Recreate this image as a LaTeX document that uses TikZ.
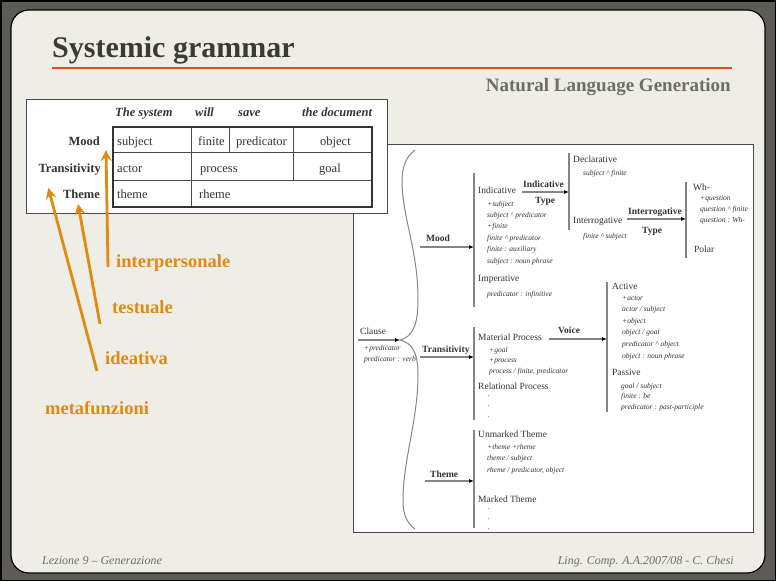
\documentclass[tikz,border=0pt]{standalone}
\usepackage{fontspec}
\setmainfont{Liberation Serif}
\usetikzlibrary{arrows.meta, calc}
\definecolor{frame}{HTML}{5C5C54}
\definecolor{paper}{HTML}{EFEEE6}
\definecolor{rulered}{HTML}{D4521C}
\definecolor{heading}{HTML}{3A3A36}
\definecolor{subhead}{HTML}{6E6E68}
\definecolor{meta}{HTML}{E08A12}
\definecolor{grid}{HTML}{4A4A4A}
\definecolor{wire}{HTML}{858585}
\definecolor{txt}{HTML}{333333}
% feature lists, aligned on the baseline of their first line
\newcommand{\flist}[1]{\begin{tabular}[t]{@{}l@{}}#1\end{tabular}}

\begin{document}
\begin{tikzpicture}[x=1pt, y=-1pt,
  lab/.style={anchor=base west, inner sep=0pt, text=txt},
  rlab/.style={anchor=base east, inner sep=0pt, text=txt},
  cell/.style={lab, font=\fontsize{12.5}{13}\selectfont},
  rowlab/.style={rlab, font=\fontsize{12.5}{13}\selectfont\bfseries},
  head/.style={lab, font=\fontsize{12.5}{13}\selectfont\bfseries\itshape},
  metalab/.style={lab, text=meta, font=\fontsize{18.5}{19}\selectfont\bfseries},
  metaarr/.style={draw=meta, line width=2.8pt, -{Stealth[length=11pt, width=11pt, inset=4pt]}},
  rt/.style={lab, font=\fontsize{9.5}{11}\selectfont},
  rb/.style={lab, font=\fontsize{9.5}{11}\selectfont\bfseries},
  ft/.style={lab, font=\fontsize{7.5}{11.3}\selectfont\itshape},
  bar/.style={draw=wire, line width=1.3pt},
  wirearr/.style={draw=wire, line width=1.1pt, -{Latex[length=5pt, width=4pt, black]}}]
  \useasboundingbox (0,0) rectangle (776,581);

  % slide frame
  \fill[frame] (0,0) rectangle (776,581);
  \draw[black, line width=1.5pt] (0.75,0.75) rectangle (775.25,580.25);
  \draw[fill=paper, draw=black, line width=1.2pt, rounded corners=18pt] (11,10) rectangle (765,573);

  % title and footer
  \node[lab, text=heading, font=\fontsize{30}{30}\selectfont\bfseries] (title) at (52,57) {Systemic grammar};
  \draw[rulered, line width=1.2pt] (52,68) -- (732,68);
  \node[rlab, text=subhead, font=\fontsize{19}{19}\selectfont\bfseries] (subtitle) at (731,91) {Natural Language Generation};
  \node[lab, text=subhead, font=\fontsize{12}{12}\selectfont\itshape] (footl) at (42,564) {Lezione 9 -- Generazione};
  \node[rlab, text=subhead, font=\fontsize{12}{12}\selectfont\itshape] (footr) at (734,564) {Ling. Comp. A.A.2007/08 - C. Chesi};

  % right figure: the system network
  \draw[fill=white, draw=grid, line width=1pt] (353,144) rectangle (753,532);
  \node[rt] (clause) at (360,334) {Clause};
  \node[ft, font=\fontsize{7.5}{11}\selectfont\itshape] (clausef) at (364,350) {\flist{+predicator\\predicator : verb}};
  \coordinate (tip) at (400,340);
  \draw[wire, line width=1pt] (415,150) .. controls (406,157) and (402,166) .. (402,183)
    .. controls (403,220) and (418,250) .. (418,300) .. controls (418,326) and (412,337) .. (tip)
    .. controls (412,343) and (418,352) .. (418,375) .. controls (418,420) and (403,460) .. (403,500)
    .. controls (403,515) and (407,523) .. (415,529);
  \coordinate (clauseS) at ($(clause.base west)+(-2,6)$);
  \draw[wirearr] (clauseS) -- (tip);

  % brackets
  \foreach \n/\x/\t/\b in {bMood/474/173/307, bTrans/474/327/420, bTheme/474/430/528,
                           bInd/569/153/230, bInt/686/182/258, bVoice/607/282/412}{
    \coordinate (\n T) at (\x,\t);
    \coordinate (\n B) at (\x,\b);
    \draw[bar] (\n T) -- (\n B);
  }

  % systems and their features
  \node[rb] (mood) at (426,241) {Mood};
  \node[rb] (trans) at (422,352) {Transitivity};
  \node[rb] (theme) at (430,477) {Theme};
  \node[rb] (indlab) at (523,187) {Indicative};
  \node[rb] (indtype) at (535,203) {Type};
  \node[rb] (intlab) at (628,214) {Interrogative};
  \node[rb] (inttype) at (642,233) {Type};
  \node[rb] (voice) at (558,333) {Voice};

  \coordinate (moodS) at ($(mood.base west)+(-6,6)$);
  \coordinate (transS) at ($(trans.base west)+(-2,5)$);
  \coordinate (themeS) at ($(theme.base west)+(-5,4)$);
  \coordinate (indS) at ($(indlab.base west)+(-1,5)$);
  \coordinate (intS) at ($(intlab.base west)+(-1,5)$);
  \coordinate (voiceS) at ($(voice.base west)+(-9,6)$);
  \draw[wirearr] (moodS) -- (moodS -| bMoodT);
  \draw[wirearr] (transS) -- (transS -| bTransT);
  \draw[wirearr] (themeS) -- (themeS -| bThemeT);
  \draw[wirearr] (indS) -- (indS -| bIndT);
  \draw[wirearr] (intS) -- (intS -| bIntT);
  \draw[wirearr] (voiceS) -- (voiceS -| bVoiceT);

  \node[rt] (indic) at (478,193) {Indicative};
  \node[ft, font=\fontsize{7.5}{11.4}\selectfont\itshape] (indicf) at (487,206)
    {\flist{+subject\\subject \textasciicircum\ predicator\\+finite\\finite \textasciicircum\ predicator\\finite : auxiliary\\subject : noun phrase}};
  \node[rt] (imper) at (478,281) {Imperative};
  \node[ft] (imperf) at (487,296) {predicator : infinitive};
  \node[rt] (decl) at (573,162) {Declarative};
  \node[ft] (declf) at (583,175) {subject \textasciicircum\ finite};
  \node[rt] (interr) at (573,223) {Interrogative};
  \node[ft] (interrf) at (583,238) {finite \textasciicircum\ subject};
  \node[rt] (wh) at (693,190) {Wh-};
  \node[ft, font=\fontsize{7.5}{11}\selectfont\itshape] (whf) at (700,200)
    {\flist{+question\\question \textasciicircum\ finite\\question : Wh-}};
  \node[rt] (polar) at (694,252) {Polar};

  \node[rt] (mat) at (478,340) {Material Process};
  \node[ft, font=\fontsize{7.5}{10.5}\selectfont\itshape] (matf) at (489,352)
    {\flist{+goal\\+process\\process / finite, predicator}};
  \node[rt] (rel) at (478,389) {Relational Process};
  \node[ft, font=\fontsize{7.5}{10.5}\selectfont\itshape] (reldots) at (488,396) {\flist{.\\.\\.}};
  \node[rt] (active) at (612,289) {Active};
  \node[ft, font=\fontsize{7.5}{11.6}\selectfont\itshape] (activef) at (622,300)
    {\flist{+actor\\actor / subject\\+object\\object / goal\\predicator \textasciicircum\ object\\object : noun phrase}};
  \node[rt] (passive) at (612,375) {Passive};
  \node[ft, font=\fontsize{7.5}{10.5}\selectfont\itshape] (passivef) at (621,388)
    {\flist{goal / subject\\finite : be\\predicator : past-participle}};

  \node[rt] (unm) at (478,437) {Unmarked Theme};
  \node[ft, font=\fontsize{7.5}{11.5}\selectfont\itshape] (unmf) at (487,449)
    {\flist{+theme +rheme\\theme / subject\\rheme / predicator, object}};
  \node[rt] (marked) at (478,502) {Marked Theme};
  \node[ft, font=\fontsize{7.5}{10}\selectfont\itshape] (markdots) at (488,509) {\flist{.\\.\\.}};

  % left figure: the clause table
  \draw[fill=white, draw=grid, line width=0.9pt] (26,99) rectangle (387,213);
  \node[head] (hsys) at (115,116) {The system};
  \node[head] (hwill) at (195,116) {will};
  \node[head] (hsave) at (238,116) {save};
  \node[head] (hdoc) at (302,116) {the document};
  \draw[grid, line width=0.8pt] (113,152) -- (372,152) (113,180) -- (372,180)
    (191,127) -- (191,207) (229,127) -- (229,152) (293,127) -- (293,180);
  \draw[black!80, line width=2.4pt] (113,127) rectangle (372,207);
  \node[rowlab] (rmood) at (100,145) {Mood};
  \node[rowlab] (rtrans) at (101,172) {Transitivity};
  \node[rowlab] (rtheme) at (100,198) {Theme};
  \node[cell] (csubj) at (117,145) {subject};
  \node[cell] (cfin) at (198,145) {finite};
  \node[cell] (cpred) at (236,145) {predicator};
  \node[cell] (cobj) at (320,145) {object};
  \node[cell] (cact) at (117,172) {actor};
  \node[cell] (cproc) at (200,172) {process};
  \node[cell] (cgoal) at (319,172) {goal};
  \node[cell] (cthm) at (117,198) {theme};
  \node[cell] (crhm) at (199,198) {rheme};

  % metafunctions
  \node[metalab] (interp) at (116,267) {interpersonale};
  \node[metalab] (test) at (112,313) {testuale};
  \node[metalab] (idea) at (105,364) {ideativa};
  \node[metalab] (metaf) at (45,414) {metafunzioni};
  \draw[metaarr] ($(interp.base west)+(-8,0)$) -- ($(rmood.base east)+(6,5)$);
  \draw[metaarr] ($(test.base west)+(-12,11)$) -- ($(rtheme.base east)+(-22,6)$);
  \draw[metaarr] ($(idea.base west)+(-8,7)$) -- ($(rtrans.base west)+(10,16)$);
\end{tikzpicture}
\end{document}
